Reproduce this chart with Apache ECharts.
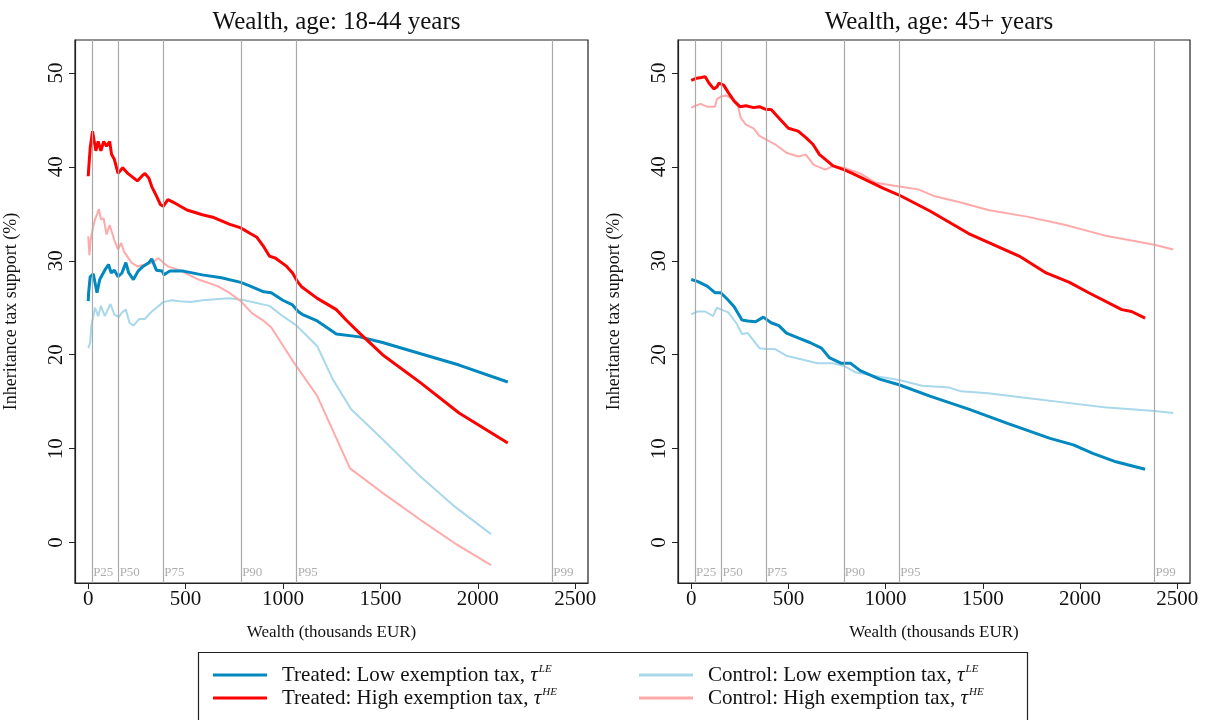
<!DOCTYPE html>
<html>
<head>
<meta charset="utf-8">
<script src="https://cdn.jsdelivr.net/npm/echarts@6/dist/echarts.min.js"></script>
<style>html,body{margin:0;padding:0;background:#fff}#c{width:1208px;height:720px}</style>
</head>
<body>
<div id="c"></div>
<script>
// ---------- DATA ----------
const panelTitles = ['Wealth, age: 18-44 years', 'Wealth, age: 45+ years'];
const seriesNames = ['Treated: Low exemption tax', 'Treated: High exemption tax', 'Control: Low exemption tax', 'Control: High exemption tax'];
const seriesSup = ['LE', 'HE', 'LE', 'HE'];
const xTicks = [0, 500, 1000, 1500, 2000, 2500];
const yTicks = [0, 10, 20, 30, 40, 50];
const percentiles = [20, 156, 385, 785, 1070, 2383];
const pctLabels = ['P25', 'P50', 'P75', 'P90', 'P95', 'P99'];

// Panel 1: age 18-44
const youngTreatedHigh = [[0,39.0],[2,39.7],[10,42.0],[22,43.8],[31,43.9],[39,41.7],[51,42.7],[65,41.7],[79,42.7],[94,42.2],[110,42.7],[120,41.3],[134,40.8],[153,39.3],[177,39.9],[203,39.3],[252,38.5],[275,39.0],[291,39.3],[311,38.8],[326,37.9],[350,36.9],[370,36.0],[385,35.8],[409,36.5],[448,36.1],[507,35.4],[586,34.9],[645,34.6],[724,33.9],[783,33.5],[832,32.9],[866,32.5],[901,31.5],[930,30.5],[960,30.3],[1019,29.4],[1049,28.7],[1074,27.8],[1097,27.2],[1176,26.0],[1274,24.8],[1324,23.7],[1393,22.3],[1511,20.0],[1707,17.0],[1904,13.8],[2154,10.6]];
const youngTreatedLow = [[0,25.7],[2,26.6],[10,28.3],[26,28.6],[45,26.6],[59,28.0],[85,29.0],[104,29.6],[118,28.7],[134,29.0],[153,28.3],[173,28.7],[193,29.8],[208,28.7],[232,28.0],[256,28.9],[281,29.4],[311,29.8],[326,30.2],[350,29.0],[380,28.9],[389,28.5],[419,28.9],[488,28.9],[586,28.5],[684,28.2],[783,27.7],[832,27.3],[901,26.7],[940,26.6],[999,25.8],[1049,25.3],[1078,24.6],[1098,24.3],[1176,23.6],[1274,22.2],[1393,21.9],[1511,21.3],[1707,20.1],[1904,18.9],[2154,17.1]];
const youngControlLow = [[0,20.7],[10,21.3],[16,23.1],[26,24.1],[35,25.0],[51,24.1],[65,25.2],[85,24.1],[114,25.4],[134,24.3],[157,24.0],[173,24.5],[193,24.8],[212,23.4],[232,23.1],[262,23.8],[291,23.8],[321,24.5],[350,25.0],[385,25.6],[429,25.8],[468,25.7],[527,25.6],[586,25.8],[724,26.0],[802,25.8],[931,25.2],[999,24.1],[1070,23.1],[1176,20.9],[1255,17.4],[1350,14.2],[1511,11.0],[1707,7.0],[1884,3.8],[2068,0.9]];
const youngControlHigh = [[0,32.6],[6,30.6],[12,32.2],[26,33.7],[35,34.4],[55,35.5],[65,34.4],[79,34.5],[94,32.8],[110,33.8],[134,32.2],[153,31.2],[169,31.9],[183,31.0],[222,29.8],[252,29.4],[291,29.6],[330,29.8],[360,30.3],[385,29.8],[409,29.4],[468,29.0],[566,28.0],[665,27.3],[724,26.6],[783,25.7],[842,24.4],[901,23.6],[940,22.9],[1058,19.1],[1176,15.6],[1344,7.9],[1511,5.3],[1707,2.4],[1884,-0.1],[2068,-2.4]];

// Panel 2: age 45+
const oldTreatedHigh = [[0,49.2],[22,49.4],[52,49.5],[72,49.6],[92,48.9],[116,48.3],[132,48.5],[142,48.9],[167,48.7],[191,47.9],[221,47.0],[251,46.4],[281,46.5],[321,46.3],[351,46.4],[387,46.1],[411,46.1],[451,45.2],[500,44.1],[550,43.8],[590,43.1],[626,42.4],[660,41.3],[690,40.8],[730,40.1],[785,39.7],[829,39.3],[909,38.5],[989,37.7],[1069,37.0],[1228,35.3],[1427,32.9],[1687,30.5],[1826,28.7],[1946,27.7],[2045,26.6],[2215,24.8],[2265,24.6],[2335,23.9]];
const oldControlHigh = [[0,46.3],[22,46.5],[48,46.7],[82,46.4],[122,46.4],[132,47.2],[155,47.5],[181,47.6],[211,47.2],[241,46.4],[255,45.2],[281,44.5],[321,44.1],[351,43.3],[387,42.9],[431,42.4],[490,41.5],[550,41.1],[590,41.3],[630,40.2],[690,39.7],[730,40.1],[785,39.9],[869,39.3],[949,38.3],[1069,37.9],[1168,37.6],[1248,36.9],[1388,36.2],[1527,35.4],[1727,34.7],[1926,33.8],[2125,32.7],[2383,31.7],[2480,31.2]];
const oldTreatedLow = [[0,28.0],[32,27.8],[82,27.3],[122,26.6],[152,26.6],[191,25.8],[221,25.1],[261,23.7],[291,23.6],[331,23.5],[371,24.0],[411,23.4],[451,23.1],[490,22.3],[550,21.8],[610,21.3],[670,20.7],[710,19.7],[770,19.1],[819,19.1],[869,18.3],[969,17.4],[1069,16.8],[1228,15.6],[1427,14.2],[1627,12.7],[1846,11.1],[1966,10.4],[2066,9.5],[2185,8.6],[2335,7.8]];
const oldControlLow = [[0,24.3],[32,24.6],[72,24.6],[112,24.1],[132,25.0],[155,24.8],[191,24.5],[231,23.4],[261,22.2],[291,22.3],[321,21.5],[351,20.7],[387,20.6],[431,20.6],[490,19.9],[570,19.5],[650,19.1],[730,19.1],[785,18.8],[849,18.1],[929,17.8],[1069,17.3],[1188,16.7],[1328,16.5],[1388,16.1],[1527,15.9],[1727,15.4],[1926,14.9],[2125,14.4],[2383,14.0],[2480,13.8]];

// ---------- STYLE ----------
const FONT = '"Liberation Serif", "DejaVu Serif", serif';
const colors = ['#0088bf', '#ff0000', '#a8d8ea', '#ffaaaa'];
const widths = [3, 3, 2, 2];
const panels = [
  [youngTreatedLow, youngTreatedHigh, youngControlLow, youngControlHigh],
  [oldTreatedLow, oldTreatedHigh, oldControlLow, oldControlHigh]
];
const gridDefs = [
  {left: 75, right: 620, top: 40, bottom: 137},
  {left: 678, right: 18, top: 40, bottom: 137}
];

const grids = [], xAxes = [], yAxes = [], series = [], titles = [];
gridDefs.forEach((g, i) => {
  grids.push(Object.assign({show: true, borderColor: '#222', borderWidth: 1.2, backgroundColor: '#fff'}, g));
  const cx = g.left + (1208 - g.left - g.right) / 2;
  titles.push({text: panelTitles[i], left: cx, top: 5, textAlign: 'center',
    textStyle: {fontFamily: FONT, fontSize: 25, fontWeight: 'normal', color: '#111'}});
  xAxes.push({type: 'value', gridIndex: i, min: -68, max: 2566,
    name: 'Wealth (thousands EUR)', nameLocation: 'middle', nameGap: 41,
    nameTextStyle: {fontFamily: FONT, fontSize: 17, color: '#111'},
    axisLine: {show: true, onZero: false, lineStyle: {color: '#222', width: 1.2}},
    axisTick: {show: true, length: 6, inside: false, customValues: xTicks, lineStyle: {color: '#222'}},
    axisLabel: {customValues: xTicks, formatter: v => String(v), fontFamily: FONT, fontSize: 21, color: '#111', margin: 6},
    splitLine: {show: false}});
  yAxes.push({type: 'value', gridIndex: i, min: -4.3, max: 53.5,
    name: 'Inheritance tax support (%)', nameLocation: 'middle', nameGap: 55,
    nameTextStyle: {fontFamily: FONT, fontSize: 18, color: '#111'},
    axisLine: {show: true, onZero: false, lineStyle: {color: '#222', width: 1.2}},
    axisTick: {show: true, length: 6, customValues: yTicks, lineStyle: {color: '#222'}},
    axisLabel: {customValues: yTicks, rotate: 90, fontFamily: FONT, fontSize: 21, color: '#111', margin: 8},
    splitLine: {show: false}});

  // percentile reference lines
  series.push({type: 'line', xAxisIndex: i, yAxisIndex: i, data: [], silent: true,
    markLine: {symbol: 'none', silent: true, animation: false,
      lineStyle: {color: '#aaaaaa', width: 1.2, type: 'solid'}, label: {show: false},
      data: percentiles.map(v => ({xAxis: v}))}});
  series.push({type: 'scatter', xAxisIndex: i, yAxisIndex: i, symbolSize: 0, silent: true,
    data: percentiles.map((v, k) => ({value: [v, -3.2], name: pctLabels[k]})),
    label: {show: true, position: 'right', distance: 1, formatter: p => p.name,
      fontFamily: FONT, fontSize: 13, color: '#999'}});

  const order = [2, 3, 0, 1];
  order.forEach(k => {
    series.push({name: seriesNames[k], type: 'line', xAxisIndex: i, yAxisIndex: i,
      data: panels[i][k], symbol: 'none', showSymbol: false, smooth: false,
      lineStyle: {color: colors[k], width: widths[k]}, itemStyle: {color: colors[k]}});
  });
});

const richStyle = {
  t: {fontFamily: FONT, fontSize: 21, fontStyle: 'italic', color: '#111', lineHeight: 22},
  s: {fontFamily: FONT, fontSize: 11, fontStyle: 'italic', color: '#111', verticalAlign: 'top', lineHeight: 11, padding: [0, 0, 0, 1]}
};
function legendFmt(name) {
  const k = seriesNames.indexOf(name);
  return name + ', {t|τ}{s|' + seriesSup[k] + '}';
}
const legendBase = {orient: 'vertical', itemWidth: 54, itemHeight: 3, itemGap: 1,
  icon: 'rect', formatter: legendFmt,
  textStyle: {fontFamily: FONT, fontSize: 21, color: '#111', lineHeight: 22, padding: [0, 0, 0, 10], rich: richStyle}};

const option = {
  animation: false,
  backgroundColor: '#fff',
  title: titles,
  grid: grids, xAxis: xAxes, yAxis: yAxes, series: series,
  legend: [
    Object.assign({}, legendBase, {left: 208, top: 659, data: [
      {name: seriesNames[0]}, {name: seriesNames[1]}]}),
    Object.assign({}, legendBase, {left: 634, top: 659, data: [
      {name: seriesNames[2]}, {name: seriesNames[3]}]})
  ],
  graphic: [{type: 'rect', left: 196, top: 650, shape: {width: 829, height: 69},
    style: {fill: 'none', stroke: '#222', lineWidth: 1.2}, silent: true}]
};
const chart = echarts.init(document.getElementById('c'), null, {renderer: 'canvas'});
chart.setOption(option);
</script>
</body>
</html>
